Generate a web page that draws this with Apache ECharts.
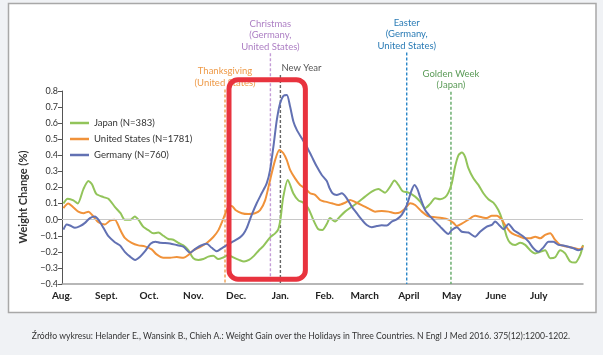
<!DOCTYPE html>
<html><head><meta charset="utf-8">
<script src="https://cdn.jsdelivr.net/npm/echarts@6/dist/echarts.min.js"></script>
<style>html,body{margin:0;padding:0;background:#f0f2f5}#c{width:603px;height:355px}</style>
</head><body><div id="c"></div>
<script>
// ---- data (x = days since Aug 1, y = weight change %) ----
const monthLabels = ['Aug.','Sept.','Oct.','Nov.','Dec.','Jan.','Feb.','March','April','May','June','July'];
const monthStarts = [0,31,61,92,122,153,184,212,243,273,304,334];
const seriesNames = ['Japan (N=383)','United States (N=1781)','Germany (N=760)'];
const japan = [[1,0.10],[4,0.13],[8,0.12],[11,0.10],[15,0.19],[18.5,0.24],[21,0.22],[24,0.16],[29,0.14],[32.5,0.13],[37,0.08],[41,0.04],[44,0.0],[48,0.0],[51,0.02],[53.5,0.0],[57,-0.045],[60.5,-0.065],[64,-0.085],[67.5,-0.08],[71,-0.10],[74.5,-0.12],[78,-0.125],[81.5,-0.145],[85,-0.16],[88.5,-0.19],[92,-0.24],[95.5,-0.25],[99,-0.245],[102.5,-0.23],[106,-0.225],[109.5,-0.245],[113,-0.235],[116.5,-0.22],[120,-0.235],[124,-0.25],[127.5,-0.26],[131,-0.25],[134.5,-0.225],[138,-0.19],[141,-0.165],[145.8,-0.11],[149.3,-0.085],[151.5,-0.06],[153,0.0],[155,0.14],[158.2,0.247],[162,0.164],[165.6,0.12],[169,0.106],[172.6,0.07],[176,0.0],[179.6,-0.06],[182.4,-0.064],[185.5,-0.027],[187.8,0.01],[191.3,-0.012],[194.8,0.02],[198.3,0.05],[203,0.08],[207.6,0.11],[212.3,0.143],[217,0.174],[221.7,0.19],[226.3,0.168],[229.9,0.205],[232.9,0.243],[235.7,0.216],[238.5,0.178],[242.7,0.168],[247.4,0.143],[250.9,0.112],[254.4,0.071],[257.9,0.098],[261.4,0.133],[264.9,0.127],[268.4,0.139],[270.7,0.168],[273.1,0.226],[275.4,0.33],[277.7,0.40],[280.1,0.417],[282.4,0.39],[284.7,0.32],[288.2,0.257],[291.7,0.216],[295.2,0.164],[298.7,0.127],[302.2,0.106],[305.7,0.06],[308.3,0.0],[311.6,-0.106],[313.9,-0.143],[317.4,-0.157],[321,-0.143],[324.5,-0.157],[328,-0.19],[331.5,-0.21],[335,-0.2],[338.5,-0.19],[342,-0.24],[345.5,-0.234],[349,-0.19],[352.5,-0.21],[356,-0.26],[359.5,-0.267],[363,-0.22],[365,-0.157]];
const unitedStates = [[1,0.072],[4.4,0.10],[8,0.076],[11.4,0.05],[15,0.04],[18.5,0.05],[22,0.02],[25.5,-0.016],[30,-0.03],[33.6,-0.006],[37,0.0],[40.6,-0.06],[44,-0.113],[48.8,-0.144],[53.5,-0.16],[58,-0.166],[62.8,-0.185],[66.3,-0.216],[71,-0.237],[75.7,-0.237],[80.4,-0.232],[85,-0.237],[88.5,-0.22],[92,-0.19],[96.7,-0.17],[101.4,-0.145],[106,-0.108],[109.6,-0.065],[112.3,-0.01],[114.5,0.04],[116.5,0.08],[119,0.085],[121.5,0.06],[126,0.04],[130.6,0.035],[135.2,0.04],[138.8,0.06],[142.3,0.12],[145.8,0.247],[149.3,0.37],[152.3,0.433],[155.1,0.413],[157.5,0.37],[159.8,0.31],[163.3,0.257],[166.8,0.216],[170.3,0.195],[173.8,0.164],[177.3,0.154],[180.8,0.122],[184.3,0.112],[189,0.102],[193.6,0.091],[198.3,0.105],[201.8,0.122],[205.3,0.11],[210,0.091],[214.6,0.07],[219.3,0.05],[224,0.054],[228.7,0.05],[233.4,0.04],[236.9,0.045],[240.4,0.07],[243.9,0.102],[247.4,0.091],[252.1,0.05],[256.7,0.02],[261.4,0.015],[266.1,0.01],[270.7,0.0],[274.2,-0.02],[276.6,-0.04],[280.1,-0.025],[284.7,0.0],[289.4,0.024],[294.1,0.015],[297.6,0.01],[301.1,0.024],[304.6,0.024],[308.1,0.0],[310.4,-0.033],[313.9,-0.075],[317.4,-0.095],[321,-0.106],[324.5,-0.116],[328,-0.116],[331.5,-0.106],[335,-0.116],[338.5,-0.095],[342,-0.085],[345.5,-0.126],[349,-0.157],[352.5,-0.165],[356,-0.172],[359.5,-0.178],[363,-0.184],[365,-0.163]];
const germany = [[1,-0.062],[3.3,-0.03],[5.6,-0.036],[9.1,-0.05],[12.6,-0.04],[16.1,-0.02],[19.6,0.01],[23.1,0.02],[25.5,0.0],[29,-0.05],[32.5,-0.103],[37,-0.14],[40.6,-0.16],[44,-0.2],[47.7,-0.23],[51.2,-0.25],[54.7,-0.23],[58.2,-0.196],[62,-0.15],[65.5,-0.137],[68.7,-0.144],[72.2,-0.145],[75.7,-0.148],[80.4,-0.158],[85,-0.168],[89.7,-0.205],[93.2,-0.183],[97,-0.162],[101.4,-0.15],[104.9,-0.175],[108.4,-0.196],[111.9,-0.178],[116,-0.155],[120,-0.135],[124.7,-0.11],[127,-0.09],[129.4,-0.053],[132.9,0.03],[136.4,0.102],[139.9,0.164],[143.4,0.226],[145.8,0.31],[148.1,0.454],[150.5,0.62],[152.8,0.724],[155.1,0.77],[157.5,0.775],[159.8,0.703],[162.1,0.61],[164.5,0.558],[168,0.506],[171.5,0.454],[175,0.392],[178.5,0.33],[182,0.278],[185.5,0.24],[187.5,0.195],[189.5,0.164],[192.5,0.154],[196,0.164],[199.5,0.133],[203,0.081],[206.5,0.04],[210,0.0],[213.5,-0.033],[217,-0.047],[220.5,-0.04],[224,-0.035],[227.5,-0.037],[231,-0.012],[234.5,0.002],[238,0.03],[241.6,0.091],[244.6,0.174],[246.9,0.216],[249,0.19],[250.9,0.14],[254.4,0.06],[257.9,0.02],[261.4,-0.012],[264.9,-0.043],[268.4,-0.075],[270.7,-0.089],[273.1,-0.064],[276.6,-0.047],[280.1,-0.075],[284.7,-0.08],[289.4,-0.106],[292.9,-0.075],[297.6,-0.043],[301.1,-0.033],[303.4,-0.012],[306.9,-0.04],[309.3,-0.06],[312.8,-0.027],[316.4,-0.064],[319.9,-0.085],[323.4,-0.106],[326.9,-0.137],[330.3,-0.178],[333.8,-0.2],[337.3,-0.172],[340.8,-0.137],[344.3,-0.137],[347.8,-0.157],[351.3,-0.16],[354.8,-0.168],[358.3,-0.178],[361.8,-0.19],[365,-0.178]];
const holidayNames = ['Thanksgiving\n(United States)','Christmas\n(Germany,\nUnited States)','New Year','Easter\n(Germany,\nUnited States)','Golden Week\n(Japan)'];
const holidayDays = [114.2,146,153,241.5,272.5];
const holidayTops = [0.81,1.035,0.90,1.04,0.795];
const highlightDays = [117,170.5];
const highlightValues = [-0.37,0.87];
const caption = 'Źródło wykresu: Helander E., Wansink B., Chieh A.: Weight Gain over the Holidays in Three Countries. N Engl J Med 2016. 375(12):1200-1202.';

// ---- styles ----
const seriesColors = ['#92c45a','#f0923a','#6271b3'];
const holidayLineColors = ['#f0a050','#c49bd6','#666','#2a86c8','#62a866'];
const holidayTextColors = ['#ee9a48','#ad7fc4','#555','#2a7bb5','#5b9b57'];
const holidayAlign = ['center','center','left','center','center'];
const FONT = 'Lato, "Liberation Sans", sans-serif';

const chart = echarts.init(document.getElementById('c'), null, {renderer:'canvas'});
const fmtY = v => (v < -1e-9 ? '\u2212' : '') + Math.abs(v).toFixed(1);
const data = [japan, unitedStates, germany];

chart.setOption({
  backgroundColor: '#f0f2f5',
  animation: false,
  textStyle: {fontFamily: FONT},
  grid: {left: 62, right: 20, top: 91, bottom: 71},
  legend: {
    left: 70, top: 118, orient: 'vertical', padding: 0, itemGap: 6,
    itemWidth: 19, itemHeight: 2.5, icon: 'rect',
    textStyle: {fontSize: 9.5, color: '#333', fontFamily: FONT},
    data: seriesNames
  },
  xAxis: {
    type: 'value', min: 0, max: 365,
    axisLine: {show: true, onZero: false, lineStyle: {color: '#a0a0a0', width: 1.5}},
    axisTick: {show: false},
    splitLine: {show: false},
    axisLabel: {
      customValues: monthStarts, margin: 7,
      fontSize: 10, fontWeight: 'bold', color: '#222', fontFamily: FONT,
      formatter: v => monthLabels[monthStarts.indexOf(v)] || ''
    }
  },
  yAxis: {
    type: 'value', min: -0.4, max: 0.8, interval: 0.1,
    name: 'Weight Change (%)', nameLocation: 'middle', nameGap: 31,
    nameTextStyle: {fontSize: 11, fontWeight: 'bold', color: '#333', fontFamily: FONT, padding: [0, 19, 0, 0]},
    axisLine: {show: true, lineStyle: {color: '#555', width: 1}},
    axisTick: {show: true, length: 4, lineStyle: {color: '#555'}},
    splitLine: {show: false},
    axisLabel: {fontSize: 9, color: '#333', margin: 4, formatter: fmtY, fontFamily: FONT}
  },
  series: data.map((d, i) => ({
    name: seriesNames[i], type: 'line', data: d, smooth: 0.25,
    showSymbol: false, symbol: 'none', z: 3 + i,
    lineStyle: {color: seriesColors[i], width: 2},
    itemStyle: {color: seriesColors[i]},
    markLine: i === 0 ? {
      silent: true, symbol: 'none', label: {show: false},
      lineStyle: {color: '#c8c8c8', type: 'solid', width: 1},
      data: [{yAxis: 0}]
    } : undefined
  }))
});

const px = (x, y) => chart.convertToPixel({gridIndex: 0}, [x, y]);
const graphics = [];
// frame
graphics.push({type: 'rect', z: -10, shape: {x: 8.5, y: 3.5, width: 587.5, height: 309}, style: {fill: '#fff', stroke: '#a8a8a8', lineWidth: 1.5}});
// holiday lines + labels
holidayDays.forEach((d, i) => {
  const bottom = px(d, -0.4);
  const top = px(d, holidayTops[i]);
  graphics.push({type: 'line', z: 1, shape: {x1: bottom[0], y1: top[1], x2: bottom[0], y2: bottom[1]},
    style: {stroke: holidayLineColors[i], lineWidth: 1.4, lineDash: [3, 2]}});
  graphics.push({type: 'text', z: 10, style: {
    text: holidayNames[i], x: bottom[0] + (holidayAlign[i] === 'left' ? 1 : 0), y: top[1] - 1,
    fill: holidayTextColors[i], font: '9.5px ' + FONT, align: holidayAlign[i], verticalAlign: 'bottom', lineHeight: 11.5
  }});
});
// highlight rectangle
const p1 = px(highlightDays[0], highlightValues[1]);
const p2 = px(highlightDays[1], highlightValues[0]);
graphics.push({type: 'rect', z: 100, shape: {x: p1[0], y: p1[1], width: p2[0] - p1[0], height: p2[1] - p1[1], r: 9},
  style: {fill: 'none', stroke: '#e8333e', lineWidth: 5}});
// caption
graphics.push({type: 'text', z: 10, style: {text: caption, x: 301, y: 336, fill: '#333', font: '8.6px ' + FONT, align: 'center', verticalAlign: 'middle'}});
chart.setOption({graphic: graphics});
</script></body></html>
